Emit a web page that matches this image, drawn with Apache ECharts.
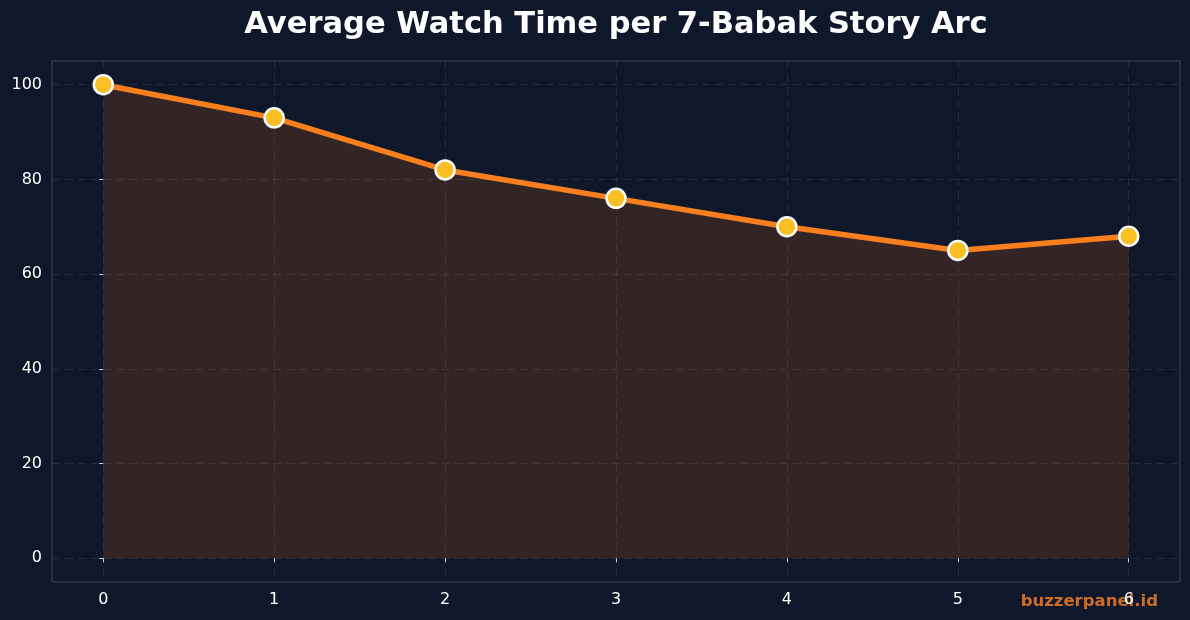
<!DOCTYPE html>
<html>
<head>
<meta charset="utf-8">
<script src="https://cdn.jsdelivr.net/npm/echarts@6/dist/echarts.min.js"></script>
<style>
html,body{margin:0;padding:0;background:#0f172a;}
#chart{width:1190px;height:620px;}
</style>
</head>
<body>
<div id="chart"></div>
<script>
const titleText = 'Average Watch Time per 7-Babak Story Arc';
const episodes = [0, 1, 2, 3, 4, 5, 6];
const watchTime = [100, 93, 82, 76, 70, 65, 68];
const xTicks = [0, 1, 2, 3, 4, 5, 6];
const yTicks = [0, 20, 40, 60, 80, 100];
const watermark = 'buzzerpanel.id';

const chart = echarts.init(document.getElementById('chart'));
const gridColor = 'rgba(148,163,184,0.14)';
const spineColor = '#3b475b';
chart.setOption({
  backgroundColor: '#0f172a',
  animation: false,
  graphic: [{
    type: 'text',
    x: 616, y: 10,
    z: 10,
    style: {
      text: titleText,
      fill: '#ffffff',
      font: 'bold 30.5px "DejaVu Sans"',
      textAlign: 'center',
      textVerticalAlign: 'top'
    }
  }, {
    type: 'text',
    right: 32, bottom: 10,
    z: 0,
    style: {
      text: watermark,
      fill: 'rgba(232,122,38,0.88)',
      font: 'bold 16.5px "DejaVu Sans"'
    }
  }],
  grid: {
    left: 52, right: 10, top: 61, bottom: 38,
    show: true, borderColor: spineColor, borderWidth: 1,
    backgroundColor: 'transparent'
  },
  xAxis: {
    type: 'value',
    min: -0.3, max: 6.3,
    axisLine: { show: false },
    axisTick: { show: true, length: 4, lineStyle: { color: '#cbd5e1' }, customValues: xTicks },
    axisLabel: { color: '#ffffff', fontFamily: 'DejaVu Sans', fontSize: 16, margin: 10, customValues: xTicks },
    splitLine: { show: true, lineStyle: { color: gridColor, type: [8, 5], width: 1 } }
  },
  yAxis: {
    type: 'value',
    min: -5, max: 105,
    axisLine: { show: false },
    axisTick: { show: true, length: 4, lineStyle: { color: '#cbd5e1' }, customValues: yTicks },
    axisLabel: { color: '#ffffff', fontFamily: 'DejaVu Sans', fontSize: 16, margin: 10, customValues: yTicks },
    splitLine: { show: true, lineStyle: { color: gridColor, type: [8, 5], width: 1 } }
  },
  series: [{
    type: 'line',
    data: episodes.map((e, i) => [e, watchTime[i]]),
    symbol: 'circle',
    symbolSize: 19,
    z: 5,
    lineStyle: { color: '#f97f1e', width: 5.5 },
    itemStyle: { color: '#fbbf24', borderColor: '#ffffff', borderWidth: 2.5 },
    areaStyle: { color: 'rgba(249,115,22,0.155)', opacity: 1, origin: 0 }
  }]
});
</script>
</body>
</html>
